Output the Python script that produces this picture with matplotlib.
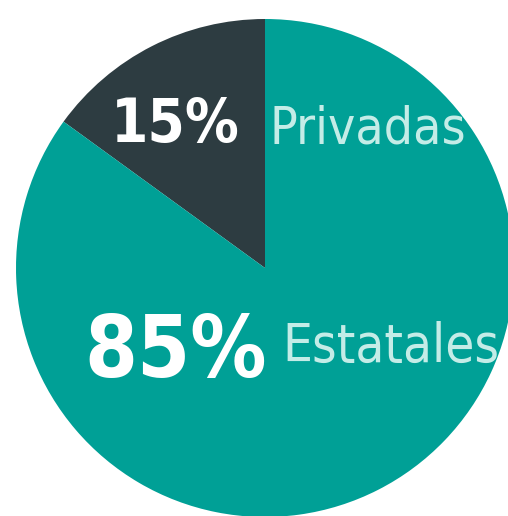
import matplotlib
matplotlib.use("Agg")
import matplotlib.pyplot as plt

categories = ["Privadas", "Estatales"]
values = [15, 85]
pct_labels = ["15%", "85%"]

dark = "#2d3c41"
teal = "#00a096"
light = "#c4ece7"

W, H = 508, 516
fig = plt.figure(figsize=(W / 100, H / 100), dpi=100)
fig.patch.set_facecolor("white")

cx, cy, r = 265, 268, 249
ax = fig.add_axes([(cx - r) / W, (H - cy - r) / H, 2 * r / W, 2 * r / H])
ax.pie(values, colors=[dark, teal], startangle=90, counterclock=True,
       radius=1, wedgeprops=dict(linewidth=0))
ax.set_xlim(-1, 1)
ax.set_ylim(-1, 1)
ax.set_aspect("auto")
ax.axis("off")

def d(px, py):
    return (px - cx) / r, (cy - py) / r

fam = ["DejaVu Sans"]
x, y = d(175, 142)
ax.text(x, y, pct_labels[0], ha="center", va="baseline", color="white",
        fontsize=43, fontweight="bold", family=fam, fontstretch="condensed")
x, y = d(368, 143)
ax.text(x, y, categories[0], ha="center", va="baseline", color=light,
        fontsize=37, family=fam, fontstretch="condensed")
x, y = d(176, 377)
ax.text(x, y, pct_labels[1], ha="center", va="baseline", color="white",
        fontsize=61, fontweight="bold", family=fam, fontstretch="condensed")
x, y = d(391, 362)
ax.text(x, y, categories[1], ha="center", va="baseline", color=light,
        fontsize=38, family=fam, fontstretch="condensed")

fig.savefig("out.png", dpi=100)
